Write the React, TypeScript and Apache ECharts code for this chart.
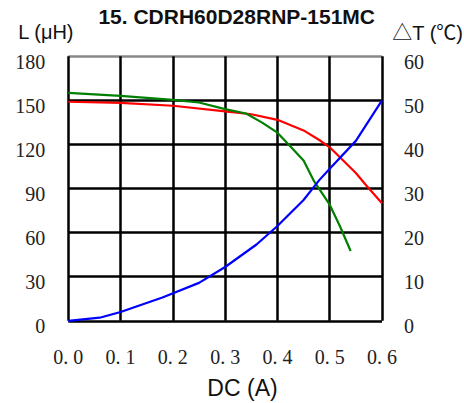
import React, { useEffect, useRef } from "react";
import * as echarts from "echarts";

const titleText = "15. CDRH60D28RNP-151MC";
const leftAxisName = "L (μH)";
const rightAxisName = "△T (℃)";
const xAxisName = "DC (A)";

// Inductance curve (red)
const redCurrent = [0, 0.1, 0.2, 0.3, 0.35, 0.4, 0.45, 0.48, 0.5, 0.55, 0.57, 0.6];
const redInductance = [149, 148.3, 146.3, 142.5, 140.5, 136.7, 129.5, 123, 118, 100.5, 92, 80];

// Inductance curve (green)
const greenCurrent = [0, 0.1, 0.2, 0.25, 0.3, 0.34, 0.37, 0.4, 0.42, 0.45, 0.47, 0.5, 0.52, 0.54];
const greenInductance = [155, 153, 150.3, 148.5, 144, 141, 135, 128, 120.5, 109, 95, 79, 64, 47.5];

// Temperature rise curve (blue)
const blueCurrent = [0, 0.06, 0.1, 0.18, 0.25, 0.3, 0.36, 0.4, 0.45, 0.48, 0.5, 0.55, 0.6];
const blueTemp = [0, 0.7, 2, 5.3, 8.6, 12.2, 17.3, 21.5, 27.4, 31.9, 34.5, 40.8, 50];

const pairs = (xs: number[], ys: number[]) => xs.map((x, i) => [x, ys[i]]);

export default function App() {
  const ref = useRef<HTMLDivElement>(null);
  useEffect(() => {
    if (!ref.current) return;
    const chart = echarts.init(ref.current, undefined, { renderer: "svg" });
    const serif = "'Liberation Serif', 'Times New Roman', serif";
    const sans = "'Liberation Sans', Arial, 'Noto Sans CJK SC', sans-serif";
    const yLabelRich = {
      v: { fontFamily: serif, fontSize: 20, color: "#222", padding: [11, 0, 0, 0] },
    };
    chart.setOption({
      animation: false,
      backgroundColor: "#ffffff",
      grid: { left: 68.3, right: 82, top: 56.2, bottom: 82.2, containLabel: false },
      xAxis: {
        type: "value",
        min: 0,
        max: 0.6,
        interval: 0.1,
        axisLine: { show: false },
        axisTick: { show: false },
        axisLabel: {
          margin: 26,
          fontFamily: serif,
          fontSize: 20,
          color: "#222",
          formatter: (v: number) => v.toFixed(1).replace(".", ". "),
        },
        splitLine: { show: true, lineStyle: { color: "#000", width: 2.5 } },
      },
      yAxis: [
        {
          type: "value",
          min: 0,
          max: 180,
          interval: 30,
          axisLine: { show: false },
          axisTick: { show: false },
          axisLabel: {
            margin: 23,
            formatter: (v: number) => `{v|${v}}`,
            rich: yLabelRich,
          },
          splitLine: {
            show: true,
            lineStyle: {
              color: ["#000", "#000", "#000", "#000", "#000", "#000", "#888"],
              width: 2.5,
            },
          },
        },
        {
          type: "value",
          min: 0,
          max: 60,
          interval: 10,
          position: "right",
          axisLine: { show: false },
          axisTick: { show: false },
          axisLabel: {
            margin: 22,
            formatter: (v: number) => `{v|${v}}`,
            rich: yLabelRich,
          },
          splitLine: { show: false },
        },
      ],
      series: [
        {
          type: "line",
          data: pairs(redCurrent, redInductance),
          yAxisIndex: 0,
          showSymbol: false,
          lineStyle: { color: "#ff0000", width: 2.2 },
        },
        {
          type: "line",
          data: pairs(greenCurrent, greenInductance),
          yAxisIndex: 0,
          showSymbol: false,
          lineStyle: { color: "#008000", width: 2.2 },
        },
        {
          type: "line",
          data: pairs(blueCurrent, blueTemp),
          yAxisIndex: 1,
          showSymbol: false,
          lineStyle: { color: "#0000ff", width: 2.2 },
        },
      ],
      graphic: [
        {
          type: "text",
          x: 236.7,
          y: 16.7,
          style: {
            text: titleText,
            font: `bold 21px ${sans}`,
            fill: "#111",
            textAlign: "center",
            textVerticalAlign: "middle",
          },
        },
        {
          type: "text",
          x: 18.3,
          y: 31.5,
          style: {
            text: leftAxisName,
            font: `20px ${sans}`,
            fill: "#111",
            textAlign: "left",
            textVerticalAlign: "middle",
          },
        },
        {
          type: "text",
          x: 463,
          y: 33,
          style: {
            text: rightAxisName,
            font: `20px ${sans}`,
            fill: "#111",
            textAlign: "right",
            textVerticalAlign: "middle",
          },
        },
        {
          type: "text",
          x: 242.5,
          y: 387.5,
          style: {
            text: xAxisName,
            font: `23px ${sans}`,
            fill: "#111",
            textAlign: "center",
            textVerticalAlign: "middle",
          },
        },
      ],
    });
    return () => chart.dispose();
  }, []);
  return <div ref={ref} style={{ width: 464, height: 403, position: "absolute", left: 0, top: 0 }} />;
}
